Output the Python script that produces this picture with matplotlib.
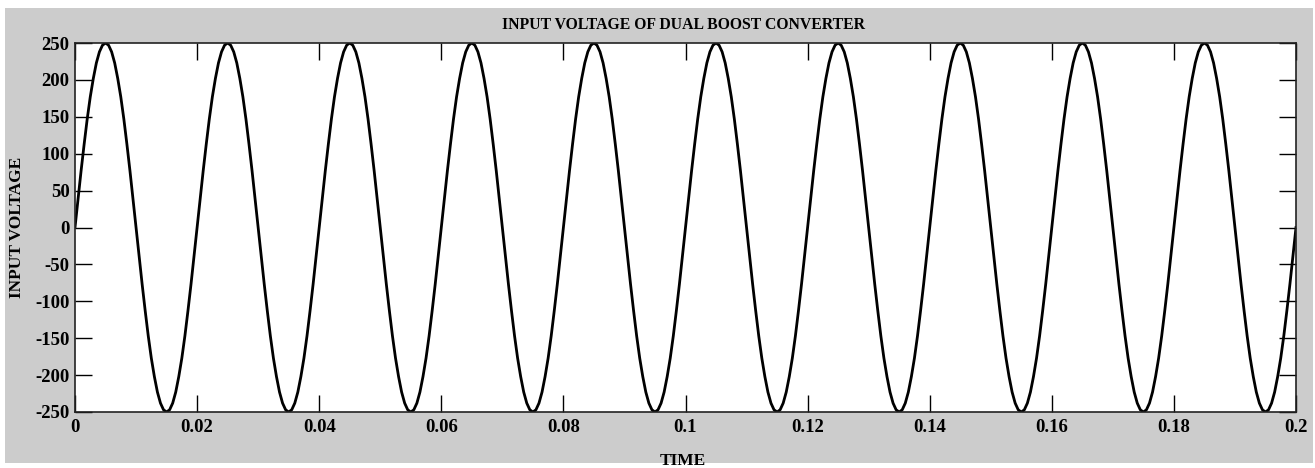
import numpy as np
import matplotlib.pyplot as plt
from matplotlib.patches import Rectangle

time_step = 0.0005
voltage = [
    0, 39, 77, 113, 147, 177, 202, 223, 238, 247, 250, 247, 238, 223, 202, 177, 147, 113, 77, 39,
    0, -39, -77, -113, -147, -177, -202, -223, -238, -247, -250, -247, -238, -223, -202, -177, -147, -113, -77, -39,
    0, 39, 77, 113, 147, 177, 202, 223, 238, 247, 250, 247, 238, 223, 202, 177, 147, 113, 77, 39,
    0, -39, -77, -113, -147, -177, -202, -223, -238, -247, -250, -247, -238, -223, -202, -177, -147, -113, -77, -39,
    0, 39, 77, 113, 147, 177, 202, 223, 238, 247, 250, 247, 238, 223, 202, 177, 147, 113, 77, 39,
    0, -39, -77, -113, -147, -177, -202, -223, -238, -247, -250, -247, -238, -223, -202, -177, -147, -113, -77, -39,
    0, 39, 77, 113, 147, 177, 202, 223, 238, 247, 250, 247, 238, 223, 202, 177, 147, 113, 77, 39,
    0, -39, -77, -113, -147, -177, -202, -223, -238, -247, -250, -247, -238, -223, -202, -177, -147, -113, -77, -39,
    0, 39, 77, 113, 147, 177, 202, 223, 238, 247, 250, 247, 238, 223, 202, 177, 147, 113, 77, 39,
    0, -39, -77, -113, -147, -177, -202, -223, -238, -247, -250, -247, -238, -223, -202, -177, -147, -113, -77, -39,
    0, 39, 77, 113, 147, 177, 202, 223, 238, 247, 250, 247, 238, 223, 202, 177, 147, 113, 77, 39,
    0, -39, -77, -113, -147, -177, -202, -223, -238, -247, -250, -247, -238, -223, -202, -177, -147, -113, -77, -39,
    0, 39, 77, 113, 147, 177, 202, 223, 238, 247, 250, 247, 238, 223, 202, 177, 147, 113, 77, 39,
    0, -39, -77, -113, -147, -177, -202, -223, -238, -247, -250, -247, -238, -223, -202, -177, -147, -113, -77, -39,
    0, 39, 77, 113, 147, 177, 202, 223, 238, 247, 250, 247, 238, 223, 202, 177, 147, 113, 77, 39,
    0, -39, -77, -113, -147, -177, -202, -223, -238, -247, -250, -247, -238, -223, -202, -177, -147, -113, -77, -39,
    0, 39, 77, 113, 147, 177, 202, 223, 238, 247, 250, 247, 238, 223, 202, 177, 147, 113, 77, 39,
    0, -39, -77, -113, -147, -177, -202, -223, -238, -247, -250, -247, -238, -223, -202, -177, -147, -113, -77, -39,
    0, 39, 77, 113, 147, 177, 202, 223, 238, 247, 250, 247, 238, 223, 202, 177, 147, 113, 77, 39,
    0, -39, -77, -113, -147, -177, -202, -223, -238, -247, -250, -247, -238, -223, -202, -177, -147, -113, -77, -39,
    0,
]
xticks = [0, 0.02, 0.04, 0.06, 0.08, 0.1, 0.12, 0.14, 0.16, 0.18, 0.2]
yticks = [-250, -200, -150, -100, -50, 0, 50, 100, 150, 200, 250]

time = np.arange(len(voltage)) * time_step

W, H = 1315, 468
tick_font = dict(family='Liberation Serif', weight='bold', size=13.5)
title_font = dict(family='Liberation Serif', weight='bold', size=11.3)
label_font = dict(family='Liberation Serif', weight='bold', size=12.5)

fig = plt.figure(figsize=(W / 100, H / 100), dpi=100)
fig.patch.set_facecolor('white')
fig.patches.append(Rectangle((5 / W, 5 / H), 1308 / W, 455 / H, transform=fig.transFigure,
                             facecolor='#cccccc', edgecolor='none', zorder=-10))

ax = fig.add_axes([75 / W, (H - 412) / H, 1221 / W, 369 / H])
ax.set_zorder(1)
ax.plot(time, voltage, color='black', linewidth=2)

ax.set_xlim(0, 0.2)
ax.set_ylim(-250, 250)
ax.set_xticks(xticks)
ax.set_xticklabels(['%g' % x for x in xticks], fontdict=tick_font)
ax.set_yticks(yticks)
ax.set_yticklabels(['%g' % y for y in yticks], fontdict=tick_font)
ax.tick_params(axis='y', direction='in', length=12, width=1, right=True, pad=4)
ax.tick_params(axis='x', direction='in', length=12, width=1, top=True, pad=5)
for s in ax.spines.values():
    s.set_linewidth(1.2)
    s.set_color('#222222')

fig.text(684 / W, 1 - 25 / H, 'INPUT VOLTAGE OF DUAL BOOST CONVERTER', ha='center', va='center', **title_font)
fig.text(683 / W, 1 - 461 / H, 'TIME', ha='center', va='center', **label_font)
fig.text(17 / W, 1 - 227 / H, 'INPUT VOLTAGE', ha='center', va='center', rotation=90, **label_font)

fig.savefig('out.png', dpi=100, facecolor='white')
